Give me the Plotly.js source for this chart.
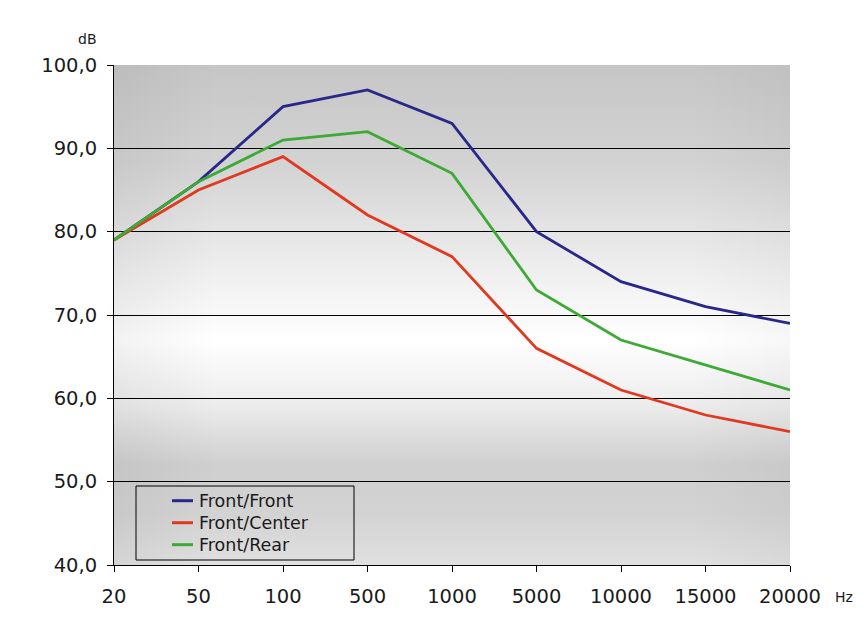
<!DOCTYPE html>
<html><head><meta charset="utf-8">
<script src="https://cdn.plot.ly/plotly-3.0.1.min.js"></script>
<style>html,body{margin:0;padding:0;background:#fff}#chart{width:866px;height:635px}</style>
</head><body><div id="chart"></div>
<script>
var frequencies = ['20','50','100','500','1000','5000','10000','15000','20000'];
var frontFront  = [79, 86, 95, 97, 93, 80, 74, 71, 69];
var frontCenter = [79, 85, 89, 82, 77, 66, 61, 58, 56];
var frontRear   = [79, 86, 91, 92, 87, 73, 67, 64, 61];
var seriesNames = ['Front/Front', 'Front/Center', 'Front/Rear'];
var seriesColors = ['#29288a', '#e0391f', '#3daa35'];
var yTicks = [40, 50, 60, 70, 80, 90, 100];

var bgSvg = '<svg xmlns="http://www.w3.org/2000/svg" width="100" height="100" preserveAspectRatio="none">' +
  '<defs><linearGradient id="g" x1="0" y1="0" x2="0" y2="1">' +
  '<stop offset="0" stop-color="#c6c6c6"/>' +
  '<stop offset="0.2" stop-color="#d3d3d3"/>' +
  '<stop offset="0.4" stop-color="#ededed"/>' +
  '<stop offset="0.55" stop-color="#ffffff"/>' +
  '<stop offset="0.68" stop-color="#ececec"/>' +
  '<stop offset="0.8" stop-color="#cfcfcf"/>' +
  '<stop offset="0.9" stop-color="#d3d3d3"/>' +
  '<stop offset="1" stop-color="#e0e0e0"/>' +
  '</linearGradient>' +
  '<linearGradient id="h" x1="0" y1="0" x2="1" y2="0">' +
  '<stop offset="0" stop-color="#000" stop-opacity="0.05"/>' +
  '<stop offset="0.15" stop-color="#000" stop-opacity="0"/>' +
  '<stop offset="0.85" stop-color="#000" stop-opacity="0"/>' +
  '<stop offset="1" stop-color="#000" stop-opacity="0.03"/>' +
  '</linearGradient></defs>' +
  '<rect width="100" height="100" fill="url(#g)"/><rect width="100" height="100" fill="url(#h)"/></svg>';
var bgUri = 'data:image/svg+xml;charset=utf-8,' + encodeURIComponent(bgSvg);

var seriesValues = [frontFront, frontCenter, frontRear];
var data = seriesValues.map(function (vals, i) {
  return {x: frequencies, y: vals, name: seriesNames[i], type: 'scatter', mode: 'lines',
          line: {color: seriesColors[i], width: 2.8}};
});

var font = 'DejaVu Sans, Verdana, sans-serif';
var tickFont = {family: font, size: 19.5, color: '#1a1a1a'};

// legend drawn as a box with line samples and text (plot-area pixel offsets -> paper)
var PW = 676, PH = 500;
var legendRows = [64.3, 42.3, 20.3]; // px above plot bottom
var shapes = [{type: 'rect', xref: 'paper', yref: 'paper',
               x0: 22/PW, x1: 240/PW, y0: 5/PH, y1: 79/PH,
               line: {color: '#000', width: 1}, fillcolor: 'rgba(0,0,0,0)', layer: 'above'}];
var annotations = [
  {text: 'dB', xref: 'paper', yref: 'paper', x: -27/PW, y: 1 + 26/PH,
   xanchor: 'center', yanchor: 'middle', showarrow: false,
   font: {family: font, size: 14, color: '#1a1a1a'}},
  {text: 'Hz', xref: 'paper', yref: 'paper', x: 1 + 54/PW, y: -32/PH,
   xanchor: 'center', yanchor: 'middle', showarrow: false,
   font: {family: font, size: 14, color: '#1a1a1a'}}
];
seriesNames.forEach(function (name, i) {
  shapes.push({type: 'line', xref: 'paper', yref: 'paper',
               x0: 58/PW, x1: 79/PW, y0: legendRows[i]/PH, y1: legendRows[i]/PH,
               line: {color: seriesColors[i], width: 3}, layer: 'above'});
  annotations.push({text: name, xref: 'paper', yref: 'paper', x: 83/PW, y: legendRows[i]/PH,
                    xanchor: 'left', yanchor: 'middle', showarrow: false,
                    font: {family: font, size: 17.5, color: '#1a1a1a'}});
});

var layout = {
  width: 866, height: 635,
  margin: {l: 114, r: 76, t: 65, b: 70},
  paper_bgcolor: '#ffffff', plot_bgcolor: 'rgba(0,0,0,0)',
  font: {family: font, size: 17, color: '#1a1a1a'},
  separators: ',.',
  showlegend: false,
  xaxis: {type: 'category', range: [0, 8], showgrid: false, zeroline: false,
          showline: true, linecolor: '#000', linewidth: 1,
          ticks: 'outside', ticklen: 6, tickcolor: '#000', ticklabelstandoff: 8,
          tickfont: tickFont, fixedrange: true},
  yaxis: {range: [40, 100], tickvals: yTicks, tickformat: '.1f',
          showgrid: true, gridcolor: '#000', gridwidth: 1, zeroline: false,
          showline: true, linecolor: '#000', linewidth: 1,
          ticks: 'outside', ticklen: 6, tickcolor: '#000', ticklabelstandoff: 6,
          tickfont: tickFont, fixedrange: true},
  images: [{source: bgUri, xref: 'paper', yref: 'paper', x: 0, y: 1, sizex: 1, sizey: 1,
            sizing: 'stretch', layer: 'below', xanchor: 'left', yanchor: 'top'}],
  shapes: shapes,
  annotations: annotations
};
Plotly.newPlot('chart', data, layout, {displayModeBar: false, staticPlot: true});
</script></body></html>
